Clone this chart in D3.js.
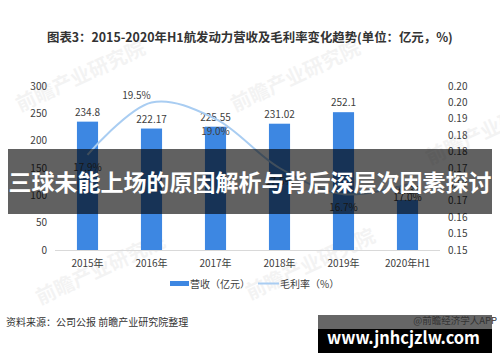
<!DOCTYPE html>
<html><head><meta charset="utf-8">
<script src="https://cdn.jsdelivr.net/npm/d3@7"></script>
<style>
html,body{margin:0;padding:0;background:#fff;}
svg{display:block;}
text{font-family:"Noto Sans CJK SC","Noto Sans",sans-serif;}
</style></head>
<body>
<svg id="chart" width="500" height="362"></svg>
<script>
const categories = ["2015年","2016年","2017年","2018年","2019年","2020年H1"];
const revenue = [234.8, 222.17, 225.55, 231.02, 252.1, 91.37];
const revenueLabels = ["234.8","222.17","225.55","231.02","252.1","91.37"];
const margin = [0.179, 0.195, 0.190, 0.175, 0.167, 0.170];
const marginLabels = ["17.9%","19.5%","19.0%","17.5%","16.7%","17.0%"];
const leftTicks = [0,50,100,150,200,250,300];
const rightTicks = [0.15,0.155,0.16,0.165,0.17,0.175,0.18,0.185,0.19,0.195,0.20];
const titleText = "图表3：2015-2020年H1航发动力营收及毛利率变化趋势(单位：亿元，%)";
const legendLabels = ["营收（亿元）","毛利率（%）"];
const sourceText = "资料来源：公司公报  前瞻产业研究院整理";
const bannerText = "三球未能上场的原因解析与背后深层次因素探讨";

const svg = d3.select("#chart");
const x = d3.scaleBand().domain(categories).range([55.5,439.5]).paddingInner(0.67).paddingOuter(0.335);
const yL = d3.scaleLinear().domain([0,300]).range([250,86]);
const yR = d3.scaleLinear().domain([0.15,0.20]).range([250,86]);
const textCol = "#404040";

// faint watermarks
const wm = [[20,112],[235,112],[430,165],[40,305],[250,300]];
wm.forEach(([wx,wy])=>{
  svg.append("text").attr("transform",`translate(${wx},${wy}) rotate(-25)`)
    .attr("font-size",20).attr("font-weight","bold").attr("fill","#000").attr("opacity",0.045)
    .text("前瞻产业研究院");
});

// title
svg.append("text").attr("x",47).attr("y",42).attr("font-size",12.4).attr("font-weight","bold")
  .attr("fill","#333").text(titleText);

// baseline
svg.append("line").attr("x1",55).attr("x2",440).attr("y1",yL(0)+0.5).attr("y2",yL(0)+0.5)
  .attr("stroke","#d9d9d9").attr("stroke-width",1);

// left ticks
svg.append("g").selectAll("text").data(leftTicks).join("text")
  .attr("x",47).attr("y",d=>yL(d)).attr("dy","0.35em").attr("text-anchor","end")
  .attr("font-size",10).attr("fill",textCol).text(d=>d);
// right ticks
svg.append("g").selectAll("text").data(rightTicks).join("text")
  .attr("x",448).attr("y",d=>yR(d)).attr("dy","0.35em").attr("text-anchor","start")
  .attr("font-size",10).attr("fill",textCol).text(d=>d3.format(".2f")(d));

// bars
svg.append("g").selectAll("rect").data(revenue).join("rect")
  .attr("x",(d,i)=>x(categories[i])).attr("width",x.bandwidth())
  .attr("y",d=>yL(d)).attr("height",d=>yL(0)-yL(d)).attr("fill","#3d87e2");
svg.append("g").selectAll("text").data(revenue).join("text")
  .attr("x",(d,i)=>x(categories[i])+x.bandwidth()/2).attr("y",d=>yL(d)-6)
  .attr("text-anchor","middle").attr("font-size",10).attr("fill",textCol)
  .text((d,i)=>revenueLabels[i]);

// line
const line = d3.line().x((d,i)=>x(categories[i])+x.bandwidth()/2).y(d=>yR(d)).curve(d3.curveCatmullRom.alpha(0.5));
svg.append("path").datum(margin).attr("d",line).attr("fill","none").attr("stroke","#a9cdf2").attr("stroke-width",2);
svg.append("g").selectAll("text").data(margin).join("text")
  .attr("x",(d,i)=>x(categories[i])+x.bandwidth()/2 + (i===1?-15:0))
  .attr("y",(d,i)=>yR(d) + (i===1?-7:13)).attr("dy","0.35em")
  .attr("text-anchor","middle").attr("font-size",10).attr("fill",textCol)
  .text((d,i)=>marginLabels[i]);

// x labels
svg.append("g").selectAll("text").data(categories).join("text")
  .attr("x",d=>x(d)+x.bandwidth()/2).attr("y",263).attr("dy","0.35em")
  .attr("text-anchor","middle").attr("font-size",10).attr("fill",textCol).text(d=>d);

// legend
svg.append("rect").attr("x",170).attr("y",281).attr("width",19).attr("height",5).attr("fill","#3d87e2");
svg.append("text").attr("x",190).attr("y",284).attr("dy","0.35em").attr("font-size",10).attr("fill",textCol).text(legendLabels[0]);
svg.append("line").attr("x1",258).attr("x2",279).attr("y1",283.5).attr("y2",283.5).attr("stroke","#a9cdf2").attr("stroke-width",2);
svg.append("text").attr("x",280).attr("y",284).attr("dy","0.35em").attr("font-size",10).attr("fill",textCol).text(legendLabels[1]);

// source
svg.append("text").attr("x",6).attr("y",322).attr("dy","0.35em").attr("font-size",10).attr("fill","#333").text(sourceText);

// banner overlay
svg.append("rect").attr("x",8).attr("y",149).attr("width",484).attr("height",65).attr("fill","#000").attr("opacity",0.62);
svg.append("text").attr("x",250).attr("y",183).attr("dy","0.35em").attr("text-anchor","middle")
  .attr("font-size",23).attr("font-weight","bold").attr("fill","#fff").text(bannerText);

// bottom-right watermark box
svg.append("rect").attr("x",318).attr("y",315).attr("width",174).attr("height",14).attr("fill","#666");
svg.append("rect").attr("x",318).attr("y",329).attr("width",174).attr("height",24).attr("fill","#000");
svg.append("text").attr("x",497).attr("y",321).attr("dy","0.35em").attr("text-anchor","end")
  .attr("font-size",9.5).attr("fill","#333").text("@前瞻经济学人APP");
svg.append("text").attr("x",327).attr("y",344).attr("font-size",17).attr("font-weight","bold")
  .attr("fill","#fff").attr("font-family","'Liberation Sans',Arial,sans-serif")
  .attr("textLength",153).attr("lengthAdjust","spacingAndGlyphs").text("www.jnhcjzlw.com");
</script>
</body></html>
